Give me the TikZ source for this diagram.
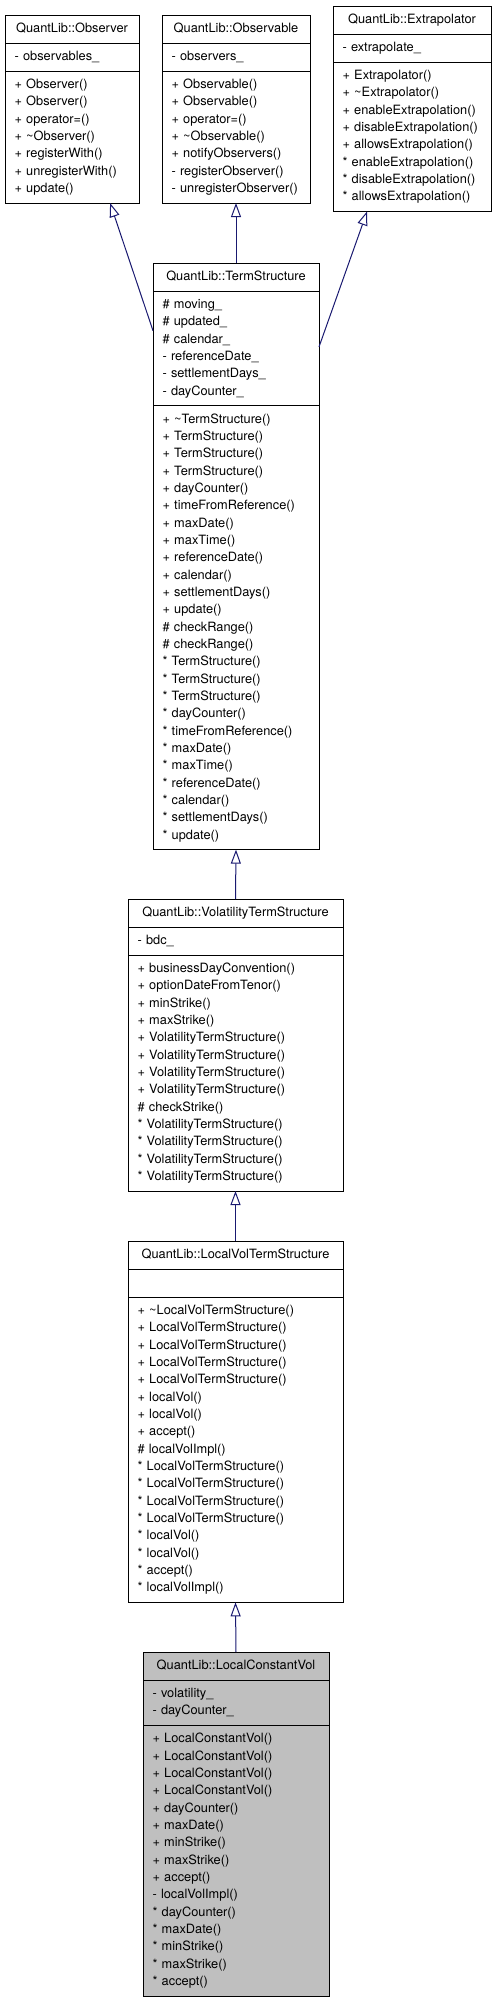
\documentclass[tikz,border=0pt]{standalone}
\usepackage{fontspec}
\setmainfont{TeX Gyre Heros}
\usetikzlibrary{positioning}
\usetikzlibrary{arrows.meta}
\definecolor{edgeblue}{RGB}{25,25,112}
\definecolor{leafgray}{RGB}{191,191,191}
\tikzset{
    classbox/.style={draw, line width=1pt, outer sep=0pt, fill=white, minimum width=#1,
        inner xsep=9.5pt, inner ysep=0pt, font=\fontsize{12.8}{17.33}\selectfont,
        execute at begin node=\strut, execute at end node=\strut},
    classname/.style={classbox=#1, anchor=north, minimum height=28pt, align=center},
    members/.style 2 args={classbox=#1, minimum height=#2*17.33pt+10.7pt,
        text width=#1-19pt, align=left},
    baseedge/.style={draw=edgeblue, line width=1pt, -{Triangle[open, length=14pt, width=10pt]}}
}
\begin{document}
\begin{tikzpicture}[x=1pt, y=-1pt]
    \useasboundingbox (0,0) rectangle (496,2003);
    % base classes
    \node[classname=134pt] (obs) at (72,15) {QuantLib::Observer};
    \node[members={134pt}{1}, below=0pt of obs] (obs-a) {- observables\_};
    \node[members={134pt}{7}, below=0pt of obs-a] (obs-m) {+ Observer()\\+ Observer()\\+ operator=()\\+ \textasciitilde Observer()\\+ registerWith()\\+ unregisterWith()\\+ update()};
    \node[classname=148pt] (obl) at (236,15) {QuantLib::Observable};
    \node[members={148pt}{1}, below=0pt of obl] (obl-a) {- observers\_};
    \node[members={148pt}{7}, below=0pt of obl-a] (obl-m) {+ Observable()\\+ Observable()\\+ operator=()\\+ \textasciitilde Observable()\\+ notifyObservers()\\- registerObserver()\\- unregisterObserver()};
    \node[classname=158pt] (ext) at (412,6) {QuantLib::Extrapolator};
    \node[members={158pt}{1}, below=0pt of ext] (ext-a) {- extrapolate\_};
    \node[members={158pt}{8}, below=0pt of ext-a] (ext-m) {+ Extrapolator()\\+ \textasciitilde Extrapolator()\\+ enableExtrapolation()\\+ disableExtrapolation()\\+ allowsExtrapolation()\\{}* enableExtrapolation()\\{}* disableExtrapolation()\\{}* allowsExtrapolation()};
    % term structure
    \node[classname=166pt] (ts) at (236,263) {QuantLib::TermStructure};
    \node[members={166pt}{6}, below=0pt of ts] (ts-a) {\# moving\_\\\# updated\_\\\# calendar\_\\- referenceDate\_\\- settlementDays\_\\- dayCounter\_};
    \node[members={166pt}{25}, below=0pt of ts-a] (ts-m) {+ \textasciitilde TermStructure()\\+ TermStructure()\\+ TermStructure()\\+ TermStructure()\\+ dayCounter()\\+ timeFromReference()\\+ maxDate()\\+ maxTime()\\+ referenceDate()\\+ calendar()\\+ settlementDays()\\+ update()\\\# checkRange()\\\# checkRange()\\{}* TermStructure()\\{}* TermStructure()\\{}* TermStructure()\\{}* dayCounter()\\{}* timeFromReference()\\{}* maxDate()\\{}* maxTime()\\{}* referenceDate()\\{}* calendar()\\{}* settlementDays()\\{}* update()};
    % volatility
    \node[classname=215pt] (vts) at (235.5,899) {QuantLib::VolatilityTermStructure};
    \node[members={215pt}{1}, below=0pt of vts] (vts-a) {- bdc\_};
    \node[members={215pt}{13}, below=0pt of vts-a] (vts-m) {+ businessDayConvention()\\+ optionDateFromTenor()\\+ minStrike()\\+ maxStrike()\\+ VolatilityTermStructure()\\+ VolatilityTermStructure()\\+ VolatilityTermStructure()\\+ VolatilityTermStructure()\\\# checkStrike()\\{}* VolatilityTermStructure()\\{}* VolatilityTermStructure()\\{}* VolatilityTermStructure()\\{}* VolatilityTermStructure()};
    \node[classname=215pt] (lvts) at (235.5,1241) {QuantLib::LocalVolTermStructure};
    \node[members={215pt}{1}, below=0pt of lvts] (lvts-a) {};
    \node[members={215pt}{17}, below=0pt of lvts-a] (lvts-m) {+ \textasciitilde LocalVolTermStructure()\\+ LocalVolTermStructure()\\+ LocalVolTermStructure()\\+ LocalVolTermStructure()\\+ LocalVolTermStructure()\\+ localVol()\\+ localVol()\\+ accept()\\\# localVolImpl()\\{}* LocalVolTermStructure()\\{}* LocalVolTermStructure()\\{}* LocalVolTermStructure()\\{}* LocalVolTermStructure()\\{}* localVol()\\{}* localVol()\\{}* accept()\\{}* localVolImpl()};
    \node[classname=186pt, fill=leafgray] (lcv) at (236,1652) {QuantLib::LocalConstantVol};
    \node[members={186pt}{2}, fill=leafgray, below=0pt of lcv] (lcv-a) {- volatility\_\\- dayCounter\_};
    \node[members={186pt}{15}, fill=leafgray, below=0pt of lcv-a] (lcv-m) {+ LocalConstantVol()\\+ LocalConstantVol()\\+ LocalConstantVol()\\+ LocalConstantVol()\\+ dayCounter()\\+ maxDate()\\+ minStrike()\\+ maxStrike()\\+ accept()\\- localVolImpl()\\{}* dayCounter()\\{}* maxDate()\\{}* minStrike()\\{}* maxStrike()\\{}* accept()};
    % inheritance
    \draw[baseedge] (ts-a.168) -- (obs-m.-60);
    \draw[baseedge] (ts.north) -- (obl-m.south);
    \draw[baseedge] (ts-a.1) -- (ext-m.-121);
    \draw[baseedge] (vts.north) -- (ts-m.south);
    \draw[baseedge] (lvts.north) -- (vts-m.south);
    \draw[baseedge] (lcv.north) -- (lvts-m.south);
\end{tikzpicture}
\end{document}
